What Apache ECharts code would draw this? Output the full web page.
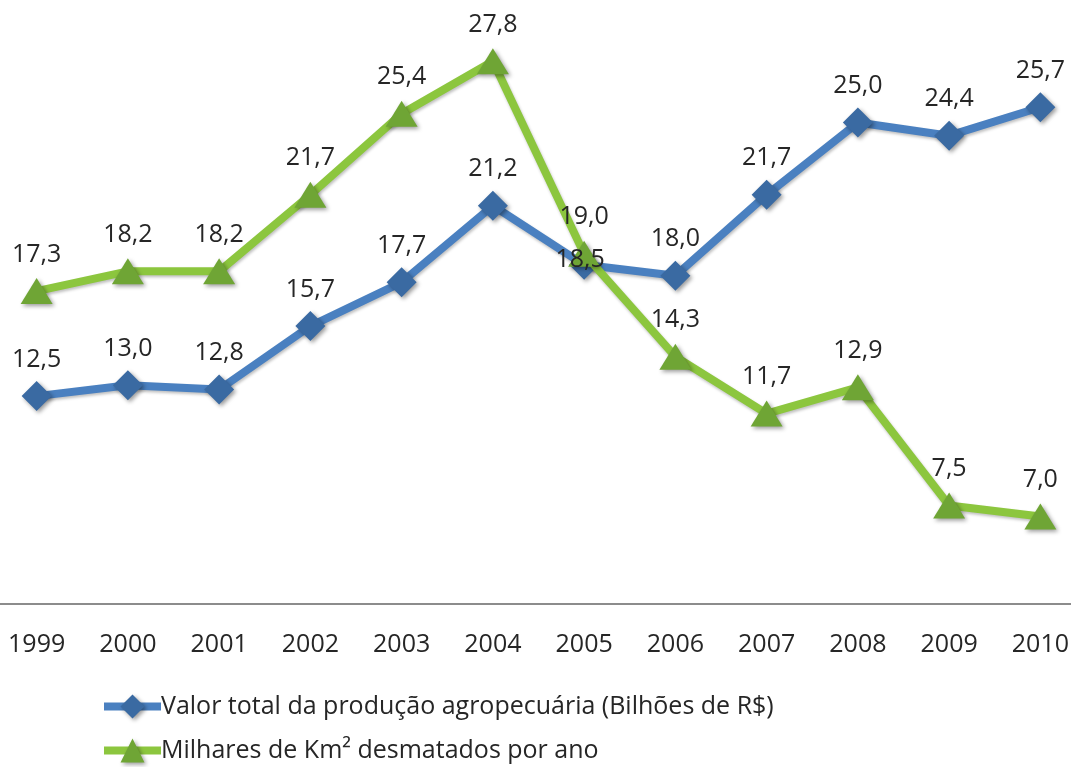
<!DOCTYPE html>
<html>
<head>
<meta charset="utf-8">
<script src="https://cdn.jsdelivr.net/npm/echarts@6/dist/echarts.min.js"></script>
<style>
html, body { margin: 0; padding: 0; background: #fff; overflow: hidden; }
#chart { position: absolute; left: -9px; top: 0; width: 1095px; height: 767px; }
</style>
</head>
<body>
<div id="chart"></div>
<script>
var years = ['1999', '2000', '2001', '2002', '2003', '2004', '2005', '2006', '2007', '2008', '2009', '2010'];
var valorProducao = [12.5, 13.0, 12.8, 15.7, 17.7, 21.2, 18.5, 18.0, 21.7, 25.0, 24.4, 25.7];
var desmatamento = [17.3, 18.2, 18.2, 21.7, 25.4, 27.8, 19.0, 14.3, 11.7, 12.9, 7.5, 7.0];
var nomeValor = 'Valor total da produção agropecuária (Bilhões de R$)';
var nomeDesm = 'Milhares de Km² desmatados por ano';
var anoRotuloDentro = '2005'; // esse rótulo azul fica em cima do ponto, acima da linha verde

var fonte = '"Open Sans", "Noto Sans", sans-serif';

function fmt(p) {
	return p.value.toFixed(1).replace('.', ',');
}

var dadosValor = valorProducao.map(function (v, i) {
	if (years[i] === anoRotuloDentro) {
		return { value: v, label: { show: false } };
	}
	return v;
});

// série só para o rótulo de 2005, desenhada por cima de tudo
var dadosRotulo = valorProducao.map(function (v, i) {
	return { value: v, label: { show: years[i] === anoRotuloDentro } };
});

var myChart = echarts.init(document.getElementById('chart'));
var option = {
	animation: false,
	textStyle: { fontFamily: fonte },
	grid: { left: 0, right: 0, top: 0, height: 604, containLabel: false },
	xAxis: {
		type: 'category',
		data: years,
		boundaryGap: true,
		axisLine: { lineStyle: { color: '#8c8c8c', width: 2 } },
		axisTick: { show: false },
		axisLabel: { color: '#262626', fontSize: 25, margin: 28, fontFamily: fonte }
	},
	yAxis: {
		type: 'value',
		min: 3,
		max: 30.6,
		show: false,
		splitLine: { show: false }
	},
	legend: {
		orient: 'vertical',
		left: 109,
		top: 694,
		padding: 0,
		itemWidth: 57,
		itemHeight: 30,
		itemGap: 19,
		itemStyle: { shadowColor: 'rgba(0,0,0,0.4)', shadowBlur: 4, shadowOffsetX: 2, shadowOffsetY: 2 },
		lineStyle: { width: 8 },
		textStyle: { color: '#262626', fontSize: 25, fontFamily: fonte, padding: [0, 0, 0, -5] },
		data: [nomeValor, nomeDesm]
	},
	series: [
		{
			name: nomeValor,
			type: 'line',
			data: dadosValor,
			symbol: 'diamond',
			symbolSize: 30,
			lineStyle: { color: '#4a80c0', width: 8, shadowColor: 'rgba(0,0,0,0.25)', shadowBlur: 3, shadowOffsetX: 1, shadowOffsetY: 2 },
			itemStyle: { color: '#3a6aa2', shadowColor: 'rgba(0,0,0,0.4)', shadowBlur: 4, shadowOffsetX: 2, shadowOffsetY: 2 },
			label: { show: true, position: 'top', distance: 9, formatter: fmt, color: '#262626', fontSize: 25, fontFamily: fonte },
			z: 2
		},
		{
			name: nomeDesm,
			type: 'line',
			data: desmatamento,
			symbol: 'triangle',
			symbolSize: [32, 26],
			lineStyle: { color: '#8cc63e', width: 8, shadowColor: 'rgba(0,0,0,0.25)', shadowBlur: 3, shadowOffsetX: 1, shadowOffsetY: 2 },
			itemStyle: { color: '#6fa535', shadowColor: 'rgba(0,0,0,0.4)', shadowBlur: 4, shadowOffsetX: 2, shadowOffsetY: 2 },
			label: { show: true, position: 'top', distance: 11, formatter: fmt, color: '#262626', fontSize: 25, fontFamily: fonte },
			z: 3
		},
		{
			name: 'rotulo',
			type: 'line',
			data: dadosRotulo,
			symbol: 'circle',
			symbolSize: 1,
			silent: true,
			lineStyle: { width: 0, opacity: 0 },
			itemStyle: { color: 'rgba(0,0,0,0)' },
			label: { position: 'inside', offset: [-4, -5], formatter: fmt, color: '#262626', fontSize: 25, fontFamily: fonte },
			z: 5
		}
	]
};
myChart.setOption(option);
</script>
</body>
</html>
